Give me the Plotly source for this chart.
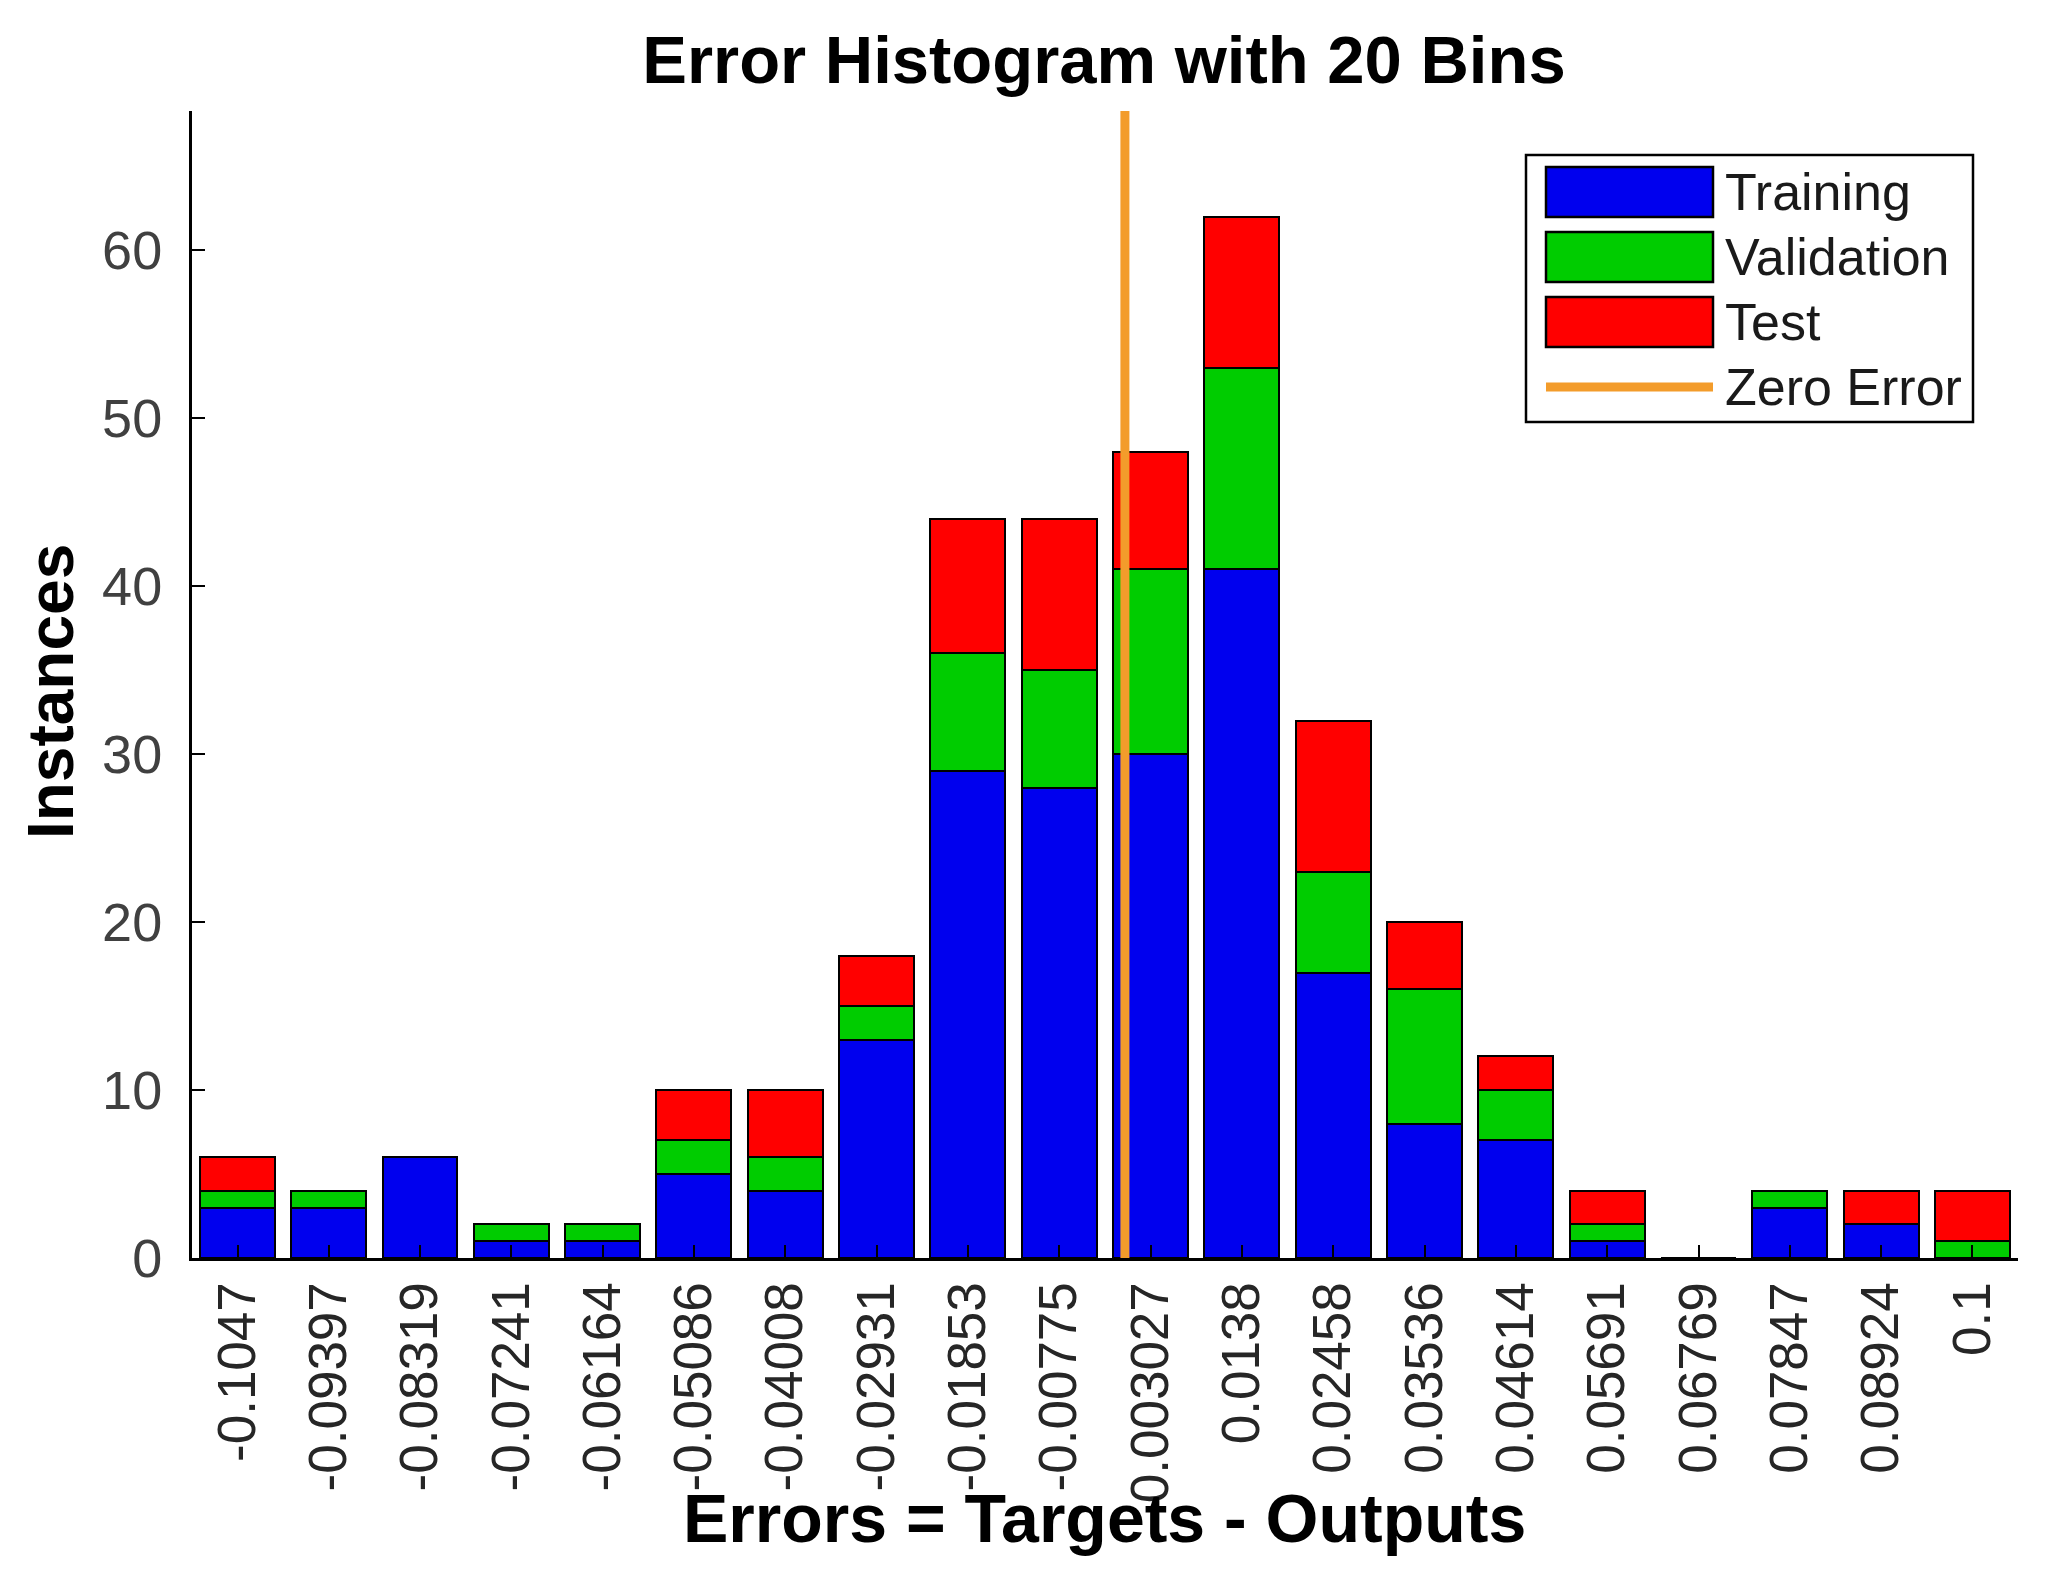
import plotly.graph_objects as go

# Bin centres (tick labels as shown) and stacked counts per bin
bin_labels = ["-0.1047", "-0.09397", "-0.08319", "-0.07241", "-0.06164",
              "-0.05086", "-0.04008", "-0.02931", "-0.01853", "-0.00775",
              "0.003027", "0.0138", "0.02458", "0.03536", "0.04614",
              "0.05691", "0.06769", "0.07847", "0.08924", "0.1"]
training = [3, 3, 6, 1, 1, 5, 4, 13, 29, 28, 30, 41, 17, 8, 7, 1, 0, 3, 2, 0]
validation = [1, 1, 0, 1, 1, 2, 2, 2, 7, 7, 11, 12, 6, 8, 3, 1, 0, 1, 0, 1]
test = [2, 0, 0, 0, 0, 3, 4, 3, 8, 9, 7, 9, 9, 4, 2, 2, 0, 0, 2, 3]
y_ticks = [0, 10, 20, 30, 40, 50, 60]

series_names = ["Training", "Validation", "Test"]
series_colors = ["#0000ee", "#00cc00", "#ff0000"]
zero_color = "#f39c2b"

centers = [float(s) for s in bin_labels]
bin_w = (centers[-1] - centers[0]) / (len(centers) - 1)
y_top = 68.3

W, H = 2062, 1577
L, R, T, B = 184, 52, 103, 327
pw, ph = W - L - R, H - T - B
FONT = "Liberation Sans, Arial, sans-serif"


def px(x):
    return (x - L) / pw


def py(y):
    return (H - B - y) / ph


fig = go.Figure()
for name, vals, col in zip(series_names, [training, validation, test], series_colors):
    fig.add_trace(go.Bar(x=centers, y=vals, name=name, width=bin_w * 0.82,
                         marker=dict(color=col, line=dict(color="black", width=2.5)),
                         showlegend=False))

# zero error line
fig.add_trace(go.Scatter(x=[0, 0], y=[0, y_top], mode="lines", name="Zero Error",
                         line=dict(color=zero_color, width=9), showlegend=False))

fig.update_layout(
    width=W, height=H, barmode="stack", bargap=0,
    margin=dict(l=L, r=R, t=T, b=B),
    plot_bgcolor="white", paper_bgcolor="white",
    font=dict(family=FONT, size=52, color="#3a3a3a"),
    title=dict(text="<b>Error Histogram with 20 Bins</b>", x=px(1096), xref="paper",
               xanchor="center", y=1 - 52 / H, yref="container", yanchor="middle",
               font=dict(size=67, color="black", family=FONT)),
)
fig.update_xaxes(range=[centers[0] - bin_w / 2, centers[-1] + bin_w / 2],
                 tickmode="array", tickvals=centers, ticktext=bin_labels, tickangle=-90,
                 ticks="inside", ticklen=13, tickwidth=2, tickcolor="black",
                 showline=True, linecolor="black", linewidth=3, showgrid=False,
                 zeroline=False, ticklabelstandoff=0,
                 tickfont=dict(size=53, color="#262626"))
fig.update_yaxes(range=[0, y_top], tickmode="array", tickvals=y_ticks,
                 ticks="inside", ticklen=13, tickwidth=2, tickcolor="black",
                 showline=True, linecolor="black", linewidth=3, showgrid=False,
                 zeroline=False, ticklabelstandoff=16,
                 tickfont=dict(size=54, color="#404040"))

# axis labels
fig.add_annotation(text="<b>Errors = Targets - Outputs</b>", x=px(1096), y=py(1510),
                   xref="paper", yref="paper", xanchor="center", yanchor="middle",
                   showarrow=False, font=dict(size=68, color="black", family=FONT))
fig.add_annotation(text="<b>Instances</b>", x=px(43), y=py(684), textangle=-90,
                   xref="paper", yref="paper", xanchor="center", yanchor="middle",
                   showarrow=False, font=dict(size=64, color="black", family=FONT))

# legend box
fig.add_shape(type="rect", xref="paper", yref="paper",
              x0=px(1518), x1=px(1965), y0=py(147), y1=py(414),
              line=dict(color="black", width=2.5), fillcolor="white", layer="above")
legend_items = series_names + ["Zero Error"]
legend_colors = series_colors + [zero_color]
for i, (name, col) in enumerate(zip(legend_items, legend_colors)):
    yc = 184 + i * 65
    if i < 3:
        fig.add_shape(type="rect", xref="paper", yref="paper",
                      x0=px(1538), x1=px(1705), y0=py(yc - 25), y1=py(yc + 25),
                      fillcolor=col, line=dict(color="black", width=2.5), layer="above")
    else:
        fig.add_shape(type="line", xref="paper", yref="paper",
                      x0=px(1538), x1=px(1705), y0=py(yc), y1=py(yc),
                      line=dict(color=col, width=9), layer="above")
    fig.add_annotation(text=name, x=px(1715), y=py(yc), xref="paper", yref="paper",
                       xanchor="left", yanchor="middle", showarrow=False,
                       font=dict(size=52, color="#1a1a1a", family=FONT))

fig.write_html("out.html")
